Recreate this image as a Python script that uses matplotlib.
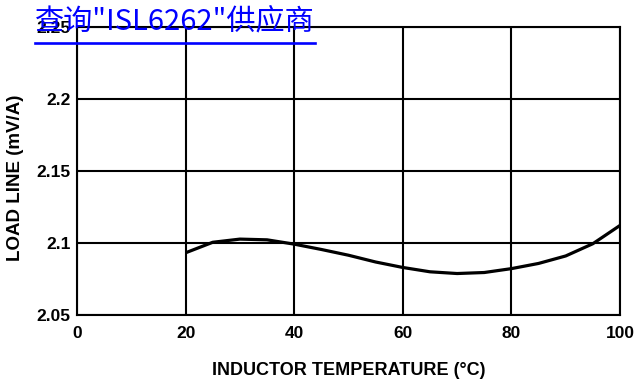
import numpy as np
import matplotlib.pyplot as plt
from matplotlib.lines import Line2D

# Load line vs inductor temperature
TEMP = [20, 25, 30, 35, 40, 45, 50, 55, 60, 65, 70, 75, 80, 85, 90, 95, 100]
LOAD_LINE = [2.0932, 2.1005, 2.1027, 2.1022, 2.0992, 2.0955, 2.0915, 2.0868,
             2.0830, 2.0800, 2.0788, 2.0795, 2.0822, 2.0858, 2.0910, 2.0995, 2.1122]

X_TICKS = [0, 20, 40, 60, 80, 100]
Y_TICKS = [2.05, 2.1, 2.15, 2.2, 2.25]
Y_TICK_LABELS = ['2.05', '2.1', '2.15', '2.2', '2.25']

TITLE = '查询"ISL6262"供应商'

plt.rcParams['font.family'] = ['Liberation Sans', 'DejaVu Sans']

fig = plt.figure(figsize=(6.38, 3.84), dpi=100)
ax = fig.add_axes([0.1207, 0.1797, 0.8511, 0.75])

ax.plot(TEMP, LOAD_LINE, color='black', linewidth=2.3, solid_capstyle='butt')

ax.set_xlim(0, 100)
ax.set_ylim(2.05, 2.25)
ax.set_xticks(X_TICKS)
ax.set_yticks(Y_TICKS)
ax.set_yticklabels(Y_TICK_LABELS)
ax.grid(True, color='black', linewidth=1.5)
ax.set_axisbelow(True)
for s in ax.spines.values():
    s.set_linewidth(1.5)
ax.tick_params(length=0, labelsize=12.5)
ax.tick_params(axis='y', pad=4.5)
ax.tick_params(axis='x', pad=8)
for lbl in ax.get_xticklabels() + ax.get_yticklabels():
    lbl.set_fontweight('bold')

ax.set_xlabel('INDUCTOR TEMPERATURE (°C)', fontsize=13, fontweight='bold', labelpad=15)
ax.set_ylabel('LOAD LINE (mV/A)', fontsize=13.5, fontweight='bold')
ax.yaxis.set_label_coords(-0.097, 0.476)

# underlined link-style heading
t = fig.text(35 / 638, 1 - 29 / 384, TITLE, color='#0000ff', fontsize=21,
             family=['Noto Sans CJK SC', 'DejaVu Sans'], ha='left', va='baseline')
fig.canvas.draw()
bb = t.get_window_extent().transformed(fig.transFigure.inverted())
y_ul = 1 - 43 / 384
fig.add_artist(Line2D([bb.x0, bb.x1], [y_ul, y_ul], transform=fig.transFigure,
                      color='#0000ff', linewidth=1.9))

plt.savefig('out.png', dpi=100)
